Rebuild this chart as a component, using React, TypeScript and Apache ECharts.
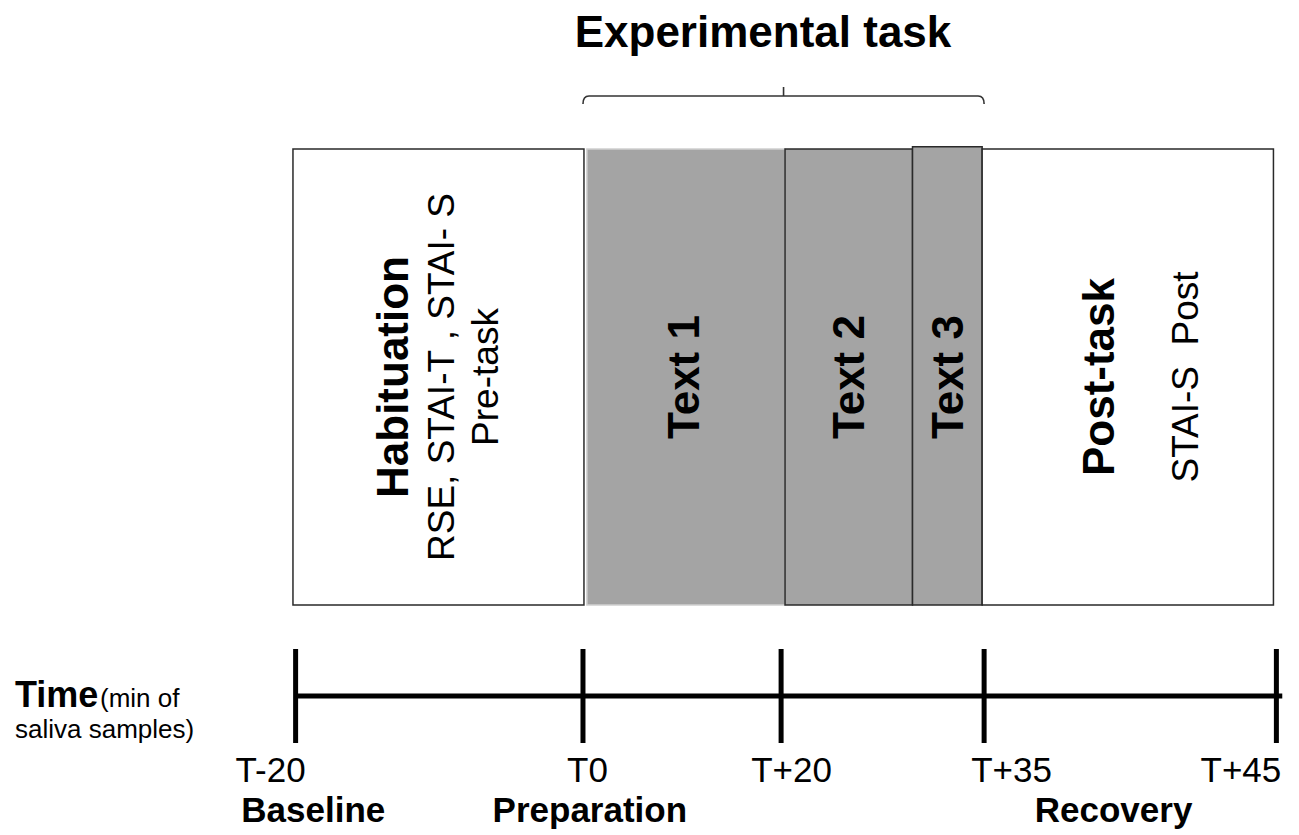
import React, { useEffect, useRef } from 'react';
import * as echarts from 'echarts';

// ---- data (schematic positions along the timeline, 0 = T-20, 100 = T+45) ----
const sampleLabels = ['T-20', 'T0', 'T+20', 'T+35', 'T+45'];
const samplePos = [0, 29.3, 49.5, 70.2, 100];

const phaseNames = ['Habituation', 'Text 1', 'Text 2', 'Text 3', 'Post-task'];
const phaseNotes = [['RSE, STAI-T , STAI- S', 'Pre-task'], [], [], [], ['STAI-S  Post']];
const phaseStart = [-0.27, 29.7, 49.9, 62.9, 70.0];
const phaseEnd = [29.4, 49.9, 62.9, 70.0, 99.7];
const phaseTop = [1, 1, 1, 1.005, 1];
const phaseIsTask = [false, true, true, true, false];

const periodLabels = ['Baseline', 'Preparation', 'Recovery'];
const periodPos = [1.8, 30.0, 83.4];

const titleText = 'Experimental task';
const timeLabel = 'Time';
const timeNote1 = '(min of';
const timeNote2 = 'saliva samples)';

// ---- styling / layout (not data) ----
const FONT = '"Liberation Sans", Arial, Helvetica, sans-serif';
const lineDx = [[-45.5, 3.5, 47.5], [-2], [0], [0], [-29, 58]];
const tickLabelDx = [-25, 4.5, 10.5, 27.5, -35.5];
const GRAY = '#a4a4a4';

export default function App() {
  const ref = useRef<HTMLDivElement>(null);

  useEffect(() => {
    const chart = echarts.init(ref.current!, null, { renderer: 'svg' });

    const phaseData = phaseNames.map((_, i) => [phaseStart[i], phaseEnd[i], phaseTop[i], i]);
    const tickData = samplePos.map((p, i) => [p, 0, i]);
    const periodData = periodPos.map((p, i) => [p, 0, i]);

    const option: any = {
      animation: false,
      backgroundColor: '#ffffff',
      grid: [
        { left: 276, right: 3, top: 149, bottom: 230 },
        { left: 276, right: 3, top: 649, height: 94 },
      ],
      xAxis: [
        { type: 'value', gridIndex: 0, min: -2, max: 102, show: false },
        { type: 'value', gridIndex: 1, min: -2, max: 102, show: false },
      ],
      yAxis: [
        { type: 'value', gridIndex: 0, min: 0, max: 1, show: false },
        { type: 'value', gridIndex: 1, min: -1, max: 1, show: false },
      ],
      graphic: [
        {
          type: 'text', x: 763, y: 31, silent: true,
          style: { text: titleText, fill: '#000', fontSize: 44, fontWeight: 'bold', fontFamily: FONT, textAlign: 'center', textVerticalAlign: 'middle', align: 'center', verticalAlign: 'middle' },
        },
        {
          type: 'text', x: 15, y: 694.5, silent: true,
          style: { text: timeLabel, fill: '#000', fontSize: 36, fontWeight: 'bold', fontFamily: FONT, textAlign: 'left', textVerticalAlign: 'middle', align: 'left', verticalAlign: 'middle' },
        },
        {
          type: 'text', x: 100, y: 698, silent: true,
          style: { text: timeNote1, fill: '#000', fontSize: 26, fontFamily: FONT, textAlign: 'left', textVerticalAlign: 'middle', align: 'left', verticalAlign: 'middle' },
        },
        {
          type: 'text', x: 15, y: 729, silent: true,
          style: { text: timeNote2, fill: '#000', fontSize: 26, fontFamily: FONT, textAlign: 'left', textVerticalAlign: 'middle', align: 'left', verticalAlign: 'middle' },
        },
      ],
      series: [
        {
          // phase boxes
          type: 'custom', xAxisIndex: 0, yAxisIndex: 0, silent: true,
          data: phaseData,
          encode: { x: [0, 1], y: 2 },
          renderItem: (params: any, api: any) => {
            const i = api.value(3);
            const bl = api.coord([api.value(0), 0]);
            const tr = api.coord([api.value(1), api.value(2)]);
            const yMid = (api.coord([0, 0])[1] + api.coord([0, 1])[1]) / 2;
            const cx = (bl[0] + tr[0]) / 2;
            const lines = [{ t: phaseNames[i], bold: true }, ...phaseNotes[i].map((t) => ({ t, bold: false }))];
            return {
              type: 'group',
              children: [
                {
                  type: 'rect',
                  shape: { x: bl[0], y: tr[1], width: tr[0] - bl[0], height: bl[1] - tr[1] },
                  style: { fill: phaseIsTask[i] ? GRAY : '#ffffff', stroke: i === 1 ? '#cfcfcf' : '#2a2a2a', lineWidth: 1.5 },
                },
                ...lines.map((l, k) => ({
                  type: 'text',
                  x: cx + lineDx[i][k],
                  y: yMid,
                  rotation: Math.PI / 2,
                  style: {
                    text: l.t, fill: '#000', fontSize: l.bold ? 44 : 37, fontWeight: l.bold ? 'bold' : 'normal', fontFamily: FONT,
                    textAlign: 'center', textVerticalAlign: 'middle', align: 'center', verticalAlign: 'middle',
                  },
                })),
              ],
            };
          },
        },
        {
          // experimental-task bracket spanning T0..T+35
          type: 'custom', xAxisIndex: 0, yAxisIndex: 0, silent: true,
          data: [[samplePos[1], samplePos[3]]],
          encode: { x: [0, 1] },
          renderItem: (params: any, api: any) => {
            const a = api.coord([api.value(0), 1]);
            const b = api.coord([api.value(1), 1]);
            const y = a[1] - 53;
            const cx = (a[0] + b[0]) / 2;
            const d = `M${a[0]} ${y + 8} Q${a[0]} ${y} ${a[0] + 6} ${y} L${b[0] - 6} ${y} Q${b[0]} ${y} ${b[0]} ${y + 8} M${cx} ${y} L${cx} ${y - 9}`;
            return { type: 'path', shape: { pathData: d }, style: { fill: 'none', stroke: '#333', lineWidth: 1.6 } };
          },
        },
        {
          // timeline axis line
          type: 'line', xAxisIndex: 1, yAxisIndex: 1, silent: true, symbol: 'none',
          data: [[samplePos[0], 0], [samplePos[samplePos.length - 1] + 0.6, 0]],
          lineStyle: { color: '#000', width: 5 },
        },
        {
          // sampling ticks + labels
          type: 'custom', xAxisIndex: 1, yAxisIndex: 1, silent: true,
          data: tickData,
          encode: { x: 0, y: 1 },
          renderItem: (params: any, api: any) => {
            const i = api.value(2);
            const top = api.coord([api.value(0), 1]);
            const bot = api.coord([api.value(0), -1]);
            const mid = api.coord([api.value(0), 0]);
            return {
              type: 'group',
              children: [
                { type: 'line', shape: { x1: top[0], y1: top[1], x2: bot[0], y2: bot[1] }, style: { stroke: '#000', lineWidth: 5 } },
                {
                  type: 'text', x: mid[0] + tickLabelDx[i], y: mid[1] + 73,
                  style: { text: sampleLabels[i], fill: '#000', fontSize: 35, fontFamily: FONT, textAlign: 'center', textVerticalAlign: 'middle', align: 'center', verticalAlign: 'middle' },
                },
              ],
            };
          },
        },
        {
          // period labels
          type: 'custom', xAxisIndex: 1, yAxisIndex: 1, silent: true,
          data: periodData,
          encode: { x: 0, y: 1 },
          renderItem: (params: any, api: any) => {
            const i = api.value(2);
            const p = api.coord([api.value(0), 0]);
            return {
              type: 'text', x: p[0], y: p[1] + 113.5,
              style: { text: periodLabels[i], fill: '#000', fontSize: 35, fontWeight: 'bold', fontFamily: FONT, textAlign: 'center', textVerticalAlign: 'middle', align: 'center', verticalAlign: 'middle' },
            };
          },
        },
      ],
    };

    chart.setOption(option);
    return () => chart.dispose();
  }, []);

  return <div ref={ref} style={{ position: 'absolute', left: 0, top: 0, width: 1299, height: 835 }} />;
}
